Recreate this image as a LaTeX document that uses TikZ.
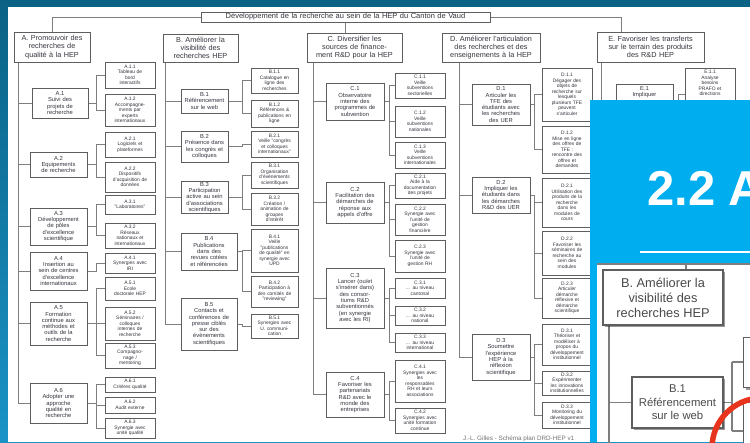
\documentclass[tikz,border=0pt]{standalone}
\usepackage{fontspec}
\setmainfont{Liberation Sans}
\usetikzlibrary{shadows}
\pgfdeclarelayer{back}
\pgfdeclarelayer{conn}
\pgfsetlayers{back,conn,main}
\definecolor{frameA}{HTML}{0B6285}
\definecolor{frameB}{HTML}{1A93C6}
\definecolor{panel}{HTML}{00AEEF}
\definecolor{bord}{HTML}{5E5E5E}
\definecolor{lin}{HTML}{7E7E7E}
\definecolor{txt}{HTML}{34343E}
\definecolor{itxt}{HTML}{4A4A4A}
\definecolor{redarc}{HTML}{E8341C}
\newcommand{\mybox}[7]{%
 \pgfmathsetmacro\bxw{#5-#3}%
 \pgfmathsetmacro\bxh{#6-#4}%
 \pgfmathsetmacro\bxtw{#5-#3-1.5}%
 \pgfmathsetmacro\bxcx{(#3+#5)/2}%
 \pgfmathsetmacro\bxcy{(#4+#6)/2}%
 \node[#1, minimum width=\bxw pt, minimum height=\bxh pt, text width=\bxtw pt] (#2) at (\bxcx,\bxcy) {#7};}
\tikzset{
 box/.style={draw=bord, fill=white, line width=0.6pt, inner xsep=0.5pt, inner ysep=0.5pt, align=center, text=txt,
   drop shadow={shadow xshift=0.9pt, shadow yshift=-0.9pt, fill=black, opacity=0.45}},
 ttl/.style={box, font=\fontsize{7.5}{8}\selectfont, inner ysep=0pt},
 hdr/.style={box, font=\fontsize{7.3}{8.3}\selectfont},
 sub/.style={box, font=\fontsize{5.8}{6.3}\selectfont},
 leaf/.style={box, font=\fontsize{4.9}{5.5}\selectfont},
 ln/.style={draw=lin, line width=0.6pt},
 ibox/.style={draw=bord, fill=white, line width=1.1pt, inner sep=1pt, align=center, text=itxt,
   drop shadow={shadow xshift=2pt, shadow yshift=-2pt, fill=black, opacity=0.4}},
 inl/.style={draw=lin, line width=1.2pt},
}
\begin{document}
\begin{tikzpicture}[x=1pt,y=-1pt]
\useasboundingbox (0,0) rectangle (750,442);
\clip (0,0) rectangle (750,442);
% frame and screen
\begin{pgfonlayer}{back}
\shade[top color=frameA, bottom color=frameB] (0,0) rectangle (750,442);
\fill[white] (7.5,7) rectangle (750,442);
\end{pgfonlayer}

% ---------- title and headers
\mybox{ttl}{title}{201}{12}{490}{22}{Développement de la recherche au sein de la HEP du Canton de Vaud}
\mybox{hdr}{A}{14}{32}{90}{62}{A. Promouvoir des\\recherches de\\qualité à la HEP}
\mybox{hdr}{B}{163}{34}{238}{62}{B. Améliorer la\\visibilité des\\recherches HEP}
\mybox{hdr}{C}{307}{33}{402}{62}{C. Diversifier les\\sources de finance-\\ment R\&D pour la HEP}
\mybox{hdr}{D}{442}{33}{540}{62}{D. Améliorer l'articulation\\des recherches et des\\enseignements à la HEP}
\mybox{hdr}{E}{597}{32}{704}{62}{E. Favoriser les transferts\\sur le terrain des produits\\des R\&D HEP}

% ---------- A
\mybox{sub}{A1}{32}{88}{88}{118}{A.1\\Suivi des\\projets de\\recherche}
\mybox{sub}{A2}{30}{152}{87}{177}{A.2\\Equipements\\de recherche}
\mybox{sub}{A3}{30}{208}{87}{245}{A.3\\Développement\\de pôles\\d'excellence\\scientifique}
\mybox{sub}{A4}{30}{252}{87}{290}{A.4\\Insertion au\\sein de centres\\d'excellence\\internationaux}
\mybox{sub}{A5}{30}{302}{87}{345}{A.5\\Formation\\continue aux\\méthodes et\\outils de la\\recherche}
\mybox{sub}{A6}{30}{383}{87}{423}{A.6\\Adopter une\\approche\\qualité en\\recherche}
\mybox{leaf}{A11}{105}{62}{155}{88}{A.1.1\\Tableau de\\bord\\interactifs}
\mybox{leaf}{A12}{105}{94}{155}{126}{A.1.2\\Accompagne-\\ments par\\experts\\internationaux}
\mybox{leaf}{A21}{105}{132}{155}{157}{A.2.1\\Logiciels et\\plateformes}
\mybox{leaf}{A22}{105}{162}{155}{192}{A.2.2\\Dispositifs\\d'acquisition de\\données}
\mybox{leaf}{A31}{105}{195}{155}{214}{A.3.1\\"Laboratoires"}
\mybox{leaf}{A32}{105}{223}{155}{248}{A.3.2\\Réseaux\\nationaux et\\internationaux}
\mybox{leaf}{A41}{105}{253}{155}{273}{A.4.1\\Synergies avec\\IRI}
\mybox{leaf}{A51}{105}{277}{155}{300}{A.5.1\\Ecole\\doctorale HEP}
\mybox{leaf}{A52}{105}{307}{155}{340}{A.5.2\\Séminaires /\\colloques\\internes de\\recherche}
\mybox{leaf}{A53}{105}{343}{155}{368}{A.5.3\\Compagno-\\nage /\\mentoring}
\mybox{leaf}{A61}{105}{377}{155}{392}{A.6.1\\Critères qualité}
\mybox{leaf}{A62}{105}{397}{155}{413}{A.6.2\\Audit externe}
\mybox{leaf}{A63}{105}{418}{155}{438}{A.6.3\\Synergie avec\\unité qualité}

% ---------- B
\mybox{sub}{B1}{181}{89}{228}{113}{B.1\\Référencement\\sur le web}
\mybox{sub}{B2}{181}{131}{228}{162}{B.2\\Présence dans\\les congrès et\\colloques}
\mybox{sub}{B3}{181}{182}{228}{213}{B.3\\Participation\\active au sein\\d'associations\\scientifiques}
\mybox{sub}{B4}{181}{233}{237}{270}{B.4\\Publications\\dans des\\revues cotées\\et référencées}
\mybox{sub}{B5}{181}{298}{237}{350}{B.5\\Contacts et\\conférences de\\presse ciblés\\sur des\\évènements\\scientifiques}
\mybox{leaf}{B11}{251}{68}{298}{93}{B.1.1\\Catalogue en\\ligne des\\recherches}
\mybox{leaf}{B12}{251}{100}{298}{127}{B.1.2\\Références \&\\publications en\\ligne}
\mybox{leaf}{B21}{251}{131}{298}{157}{B.2.1\\Veille "congrès\\et colloques\\internationaux"}
\mybox{leaf}{B31}{251}{162}{298}{188}{B.3.1\\Organisation\\d'évènements\\scientifiques}
\mybox{leaf}{B32}{251}{193}{298}{225}{B.3.2\\Création /\\animation de\\groupes\\d'intérêt}
\mybox{leaf}{B41}{251}{229}{298}{272}{B.4.1\\Veille\\"publications\\de qualité" en\\synergie avec\\UPD}
\mybox{leaf}{B42}{251}{276}{298}{307}{B.4.2\\Participation à\\des comités de\\"reviewing"}
\mybox{leaf}{B51}{251}{314}{298}{338}{B.5.1\\Synergies avec\\U. communi-\\cation}

% ---------- C
\mybox{sub}{C1}{326}{83}{384}{120}{C.1\\Observatoire\\interne des\\programmes de\\subvention}
\mybox{sub}{C2}{326}{182}{384}{223}{C.2\\Facilitation des\\démarches de\\réponse aux\\appels d'offre}
\mybox{sub}{C3}{326}{268}{384}{328}{C.3\\Lancer (ou/et\\s'insérer dans)\\des consor-\\tiums R\&D\\subventionnés\\(en synergie\\avec les RI)}
\mybox{sub}{C4}{326}{372}{384}{417}{C.4\\Favoriser les\\partenariats\\R\&D avec le\\monde des\\entreprises}
\mybox{leaf}{C11}{395}{73}{445}{98}{C.1.1\\Veille\\subventions\\sectorielles}
\mybox{leaf}{C12}{395}{106}{445}{137}{C.1.2\\Veille\\subventions\\nationales}
\mybox{leaf}{C13}{395}{142}{445}{168}{C.1.3\\Veille\\subventions\\internationales}
\mybox{leaf}{C21}{395}{173}{445}{198}{C.2.1\\Aide à la\\documentation\\des projets}
\mybox{leaf}{C22}{395}{204}{445}{235}{C.2.2\\Synergie avec\\l'unité de\\gestion\\financière}
\mybox{leaf}{C23}{395}{240}{445}{272}{C.2.3\\Synergie avec\\l'unité de\\gestion RH}
\mybox{leaf}{C31}{395}{278}{445}{298}{C.3.1\\... au niveau\\cantonal}
\mybox{leaf}{C32}{395}{306}{445}{325}{C.3.2\\... au niveau\\national}
\mybox{leaf}{C33}{395}{333}{445}{352}{C.3.3\\... au niveau\\international}
\mybox{leaf}{C41}{395}{360}{445}{402}{C.4.1\\Synergies avec\\les\\responsables\\RH et leurs\\associations}
\mybox{leaf}{C42}{395}{408}{445}{433}{C.4.2\\Synergies avec\\unité formation\\continue}

% ---------- D
\mybox{sub}{D1}{472}{84}{530}{125}{D.1\\Articuler les\\TFE des\\étudiants avec\\les recherches\\des UER}
\mybox{sub}{D2}{472}{177}{530}{213}{D.2\\Impliquer les\\étudiants dans\\les démarches\\R\&D des UER}
\mybox{sub}{D3}{472}{334}{530}{380}{D.3\\Soumettre\\l'expérience\\HEP à la\\réflexion\\scientifique}
\mybox{leaf}{D11}{542}{68}{592}{121}{D.1.1\\Dégager des\\objets de\\recherche sur\\lesquels\\plusieurs TFE\\peuvent\\s'articuler}
\mybox{leaf}{D12}{542}{126}{592}{173}{D.1.2\\Mise en ligne\\des offres de\\TFE :\\rencontre des\\offres et\\demandes}
\mybox{leaf}{D21}{542}{178}{592}{227}{D.2.1\\Utilisation des\\produits de la\\recherche\\dans les\\modules de\\cours}
\mybox{leaf}{D22}{542}{231}{592}{275}{D.2.2\\Favoriser les\\séminaires de\\recherche au\\sein des\\modules}
\mybox{leaf}{D23}{542}{278}{592}{318}{D.2.3\\Articuler\\démarche\\réflexive et\\démarche\\scientifique}
\mybox{leaf}{D31}{542}{324}{592}{365}{D.3.1\\Théoriser et\\modéliser à\\propos du\\développement\\institutionnel}
\mybox{leaf}{D32}{542}{371}{592}{395}{D.3.2\\Expérimenter\\les innovations\\institutionnelles}
\mybox{leaf}{D33}{542}{402}{592}{428}{D.3.3\\Monitoring du\\développement\\institutionnel}

% ---------- E
\mybox{sub}{E1}{616}{84}{673}{124}{E.1\\Impliquer\\~\\~\\~\\~}
\mybox{leaf}{E11}{685}{68}{735}{120}{E.1.1\\Analyse\\besoins\\PRAFO et\\directions\\~\\~\\~\\~}

% ---------- connectors, on a layer under the boxes
\begin{pgfonlayer}{conn}
\coordinate (Etop) at ([xshift=25pt]E.north west);
\draw[ln] (A.north) |- (Etop |- title.center) -- (Etop);
\draw[ln] (title.south) -- (title.south |- C.north);
\coordinate (Asp) at ([xshift=5pt]A.south west);
\coordinate (Bsp) at ([xshift=3pt]B.south west);
\coordinate (Csp) at ([xshift=7pt]C.south west);
\coordinate (Dsp) at ([xshift=18pt]D.south west);
\coordinate (Esp) at ([xshift=5pt]E.south west);
\foreach \c in {A1,A2,A3,A4,A5,A6} \draw[ln] (Asp) |- (\c.west);
\foreach \c in {B1,B2,B3,B4,B5} \draw[ln] (Bsp) |- (\c.west);
\foreach \c in {C1,C2,C3,C4} \draw[ln] (Csp) |- (\c.west);
\foreach \c in {D1,D2,D3} \draw[ln] (Dsp) |- (\c.west);
\draw[ln] (Esp) |- (E1.west);
\foreach \p/\c in {A1/A11,A1/A12,A2/A21,A2/A22,A3/A31,A3/A32,A4/A41,A5/A51,A5/A52,A5/A53,A6/A61,A6/A62,A6/A63}
  \draw[ln] (\p.east) -| ([xshift=-8pt]\c.west) -- (\c.west);
\foreach \p/\c in {B1/B11,B1/B12,B2/B21,B3/B31,B3/B32,B4/B41,B4/B42,B5/B51}
  \draw[ln] (\p.east) -| ([xshift=-8pt]\c.west) -- (\c.west);
\foreach \p/\c in {C1/C11,C1/C12,C1/C13,C2/C21,C2/C22,C2/C23,C3/C31,C3/C32,C3/C33,C4/C41,C4/C42}
  \draw[ln] (\p.east) -| ([xshift=-5pt]\c.west) -- (\c.west);
\foreach \p/\c in {D1/D11,D1/D12,D2/D21,D2/D22,D2/D23,D3/D31,D3/D32,D3/D33}
  \draw[ln] (\p.east) -| ([xshift=-7pt]\c.west) -- (\c.west);
\draw[ln] (E1.east) -| ([xshift=-6pt]E11.west) -- (E11.west);
\end{pgfonlayer}

\node[anchor=base west, inner sep=0pt, text=black!55, font=\fontsize{6.3}{7}\selectfont] (foot) at (463,440) {J.-L. Gilles - Schéma plan DRD-HEP v1};

% ---------- overlay slide
\fill[panel] (590,100) rectangle (750,442);
\node[anchor=base west, inner sep=0pt, text=white, font=\fontsize{49}{49}\selectfont\bfseries] (slidetitle) at (647,205) {2.2 A};
\draw[white, line width=1.5pt] (640,252) -- (750,252);
\fill[white] (597,263) rectangle (750,442);
\coordinate (iL) at (597,264);
\coordinate (iRgt) at (750,264);
\draw[inl] (iL) -- (iRgt);
\coordinate (iT) at (686,264);
\coordinate (iS) at (609,445);
\draw[inl] (iT) -- (686,270);
\draw[inl] (609,325) -- (iS);
\draw[inl] (609,402.5) -- (632,402.5);
\draw[inl] (723,402.5) -- (732,402.5);
\draw[inl] (732,362) -- (732,431) ;
\draw[inl] (732,362) -- (743,362);
\draw[inl] (732,431) -- (743,431);
\node[ibox, minimum width=120pt, minimum height=55pt, font=\fontsize{12.8}{15}\selectfont] (iB) at (663,297.5) {B. Améliorer la\\visibilité des\\recherches HEP};
\node[ibox, minimum width=91pt, minimum height=51pt, font=\fontsize{11.3}{13.5}\selectfont] (iB1) at (677.5,402.5) {B.1\\Référencement\\sur le web};
\node[ibox, minimum width=30pt, minimum height=50pt, anchor=north west] (iR1) at (743,337) {};
\node[ibox, minimum width=30pt, minimum height=58pt, anchor=north west] (iR2) at (743,402) {};
\draw[redarc, line width=5.5pt] (762,448) circle[radius=50pt];
\end{tikzpicture}
\end{document}
